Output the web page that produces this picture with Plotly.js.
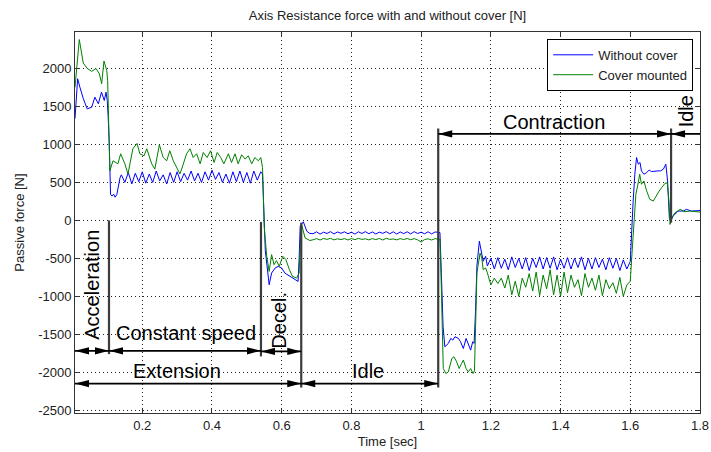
<!DOCTYPE html>
<html><head><meta charset="utf-8">
<script src="https://cdn.plot.ly/plotly-3.0.1.min.js"></script>
<style>html,body{margin:0;padding:0;background:#fff}#chart{width:711px;height:452px}</style>
</head><body><div id="chart"></div><script>
// ---------- DATA ----------
// Shared time grids
const tIdle = [0.69,0.70,0.71,0.72,0.73,0.74,0.75,0.76,0.77,0.78,0.79,0.80,0.81,0.82,0.83,0.84,0.85,0.86,0.87,0.88,0.89,0.90,0.91,0.92,0.93,0.94,0.95,0.96,0.97,0.98,0.99,1.00,1.01,1.02,1.03,1.04,1.05];
const tContr = [1.19,1.20,1.21,1.22,1.23,1.24,1.25,1.26,1.27,1.28,1.29,1.30,1.31,1.32,1.33,1.34,1.35,1.36,1.37,1.38,1.39,1.40,1.41,1.42,1.43,1.44,1.45,1.46,1.47,1.48,1.49,1.50,1.51,1.52,1.53,1.54,1.55,1.56,1.57,1.58,1.59,1.60];

// "Without cover" series
const tAccelNo = [0.007,0.0146,0.021,0.031,0.042,0.055,0.064,0.074,0.083,0.091,0.096,0.0995,0.102,0.105,0.109,0.113,0.118,0.122,0.127,0.132,0.136];
const fAccelNo = [1340,1865,1754,1601,1468,1490,1622,1535,1688,1578,1688,1578,1380,1049,344,320,345,305,340,470,560];
const tConstNo = [0.14,0.15,0.16,0.17,0.18,0.19,0.20,0.21,0.22,0.23,0.24,0.25,0.26,0.27,0.28,0.29,0.30,0.31,0.32,0.33,0.34,0.35,0.36,0.37,0.38,0.39,0.40,0.41,0.42,0.43,0.44,0.45,0.46,0.47,0.48,0.49,0.50,0.51,0.52,0.53,0.54];
const fConstNo = [600,500,630,480,620,510,640,490,610,500,650,520,600,480,630,500,640,510,620,530,650,520,620,500,640,530,660,540,630,500,610,490,640,510,650,500,630,490,650,530,640];
const tDecelNo = [0.545,0.549,0.553,0.557,0.564,0.571,0.581,0.590,0.600,0.609,0.624,0.638,0.647,0.650,0.653,0.662,0.672,0.680];
const fDecelNo = [610,100,-400,-561,-847,-693,-627,-605,-627,-693,-737,-781,-803,-500,-75,-18,-142,-170];
const fIdleNo = [-175,-150,-180,-155,-172,-148,-178,-152,-170,-150,-176,-155,-180,-150,-172,-148,-175,-152,-178,-155,-170,-148,-176,-150,-180,-152,-174,-150,-178,-148,-172,-155,-176,-150,-178,-152,-165];
const tDropNo = [1.054,1.058,1.063,1.068,1.078,1.085,1.091,1.097,1.107,1.113,1.121,1.129,1.135,1.142,1.148,1.152,1.156,1.160,1.167,1.174,1.178,1.185];
const fDropNo = [-160,-700,-1400,-1663,-1619,-1553,-1575,-1531,-1553,-1597,-1686,-1553,-1619,-1707,-1597,-1619,-1200,-600,-274,-450,-538,-472];
const fContrNo = [-600,-500,-640,-490,-630,-510,-650,-480,-620,-500,-640,-490,-660,-500,-620,-480,-640,-490,-630,-480,-650,-510,-630,-490,-640,-500,-620,-480,-650,-500,-640,-490,-620,-510,-650,-490,-630,-500,-660,-520,-640,-540];
const tEndNo = [1.604,1.608,1.613,1.618,1.623,1.628,1.632,1.639,1.647,1.654,1.661,1.671,1.680,1.687,1.695,1.702,1.707,1.712,1.716,1.723,1.737,1.752,1.761,1.776,1.790,1.800];
const fEndNo = [-100,233,608,828,740,762,652,608,630,662,643,652,652,652,675,740,520,34,-9,57,123,123,145,123,132,130];

// "Cover mounted" series
const tAccelCv = [0.007,0.0193,0.0307,0.0422,0.0548,0.0672,0.0767,0.0835,0.0901,0.0979,0.1007,0.103,0.105,0.107];
const fAccelCv = [1750,2381,2072,2000,1962,2000,1932,1800,2098,1975,1843,1400,1093,652];
const tConstCv = [0.116,0.130,0.138,0.150,0.159,0.173,0.185,0.193,0.205,0.213,0.227,0.236,0.249,0.260,0.270,0.279,0.289,0.299,0.308,0.316,0.327,0.337,0.346,0.356,0.366,0.375,0.386,0.396,0.406,0.415,0.425,0.434,0.447,0.456,0.466,0.475,0.485,0.495,0.504,0.514,0.523,0.533,0.540,0.545];
const fConstCv = [785,745,877,745,612,943,1013,877,850,943,745,675,996,828,785,917,785,696,612,718,877,943,828,877,745,894,828,917,762,894,828,745,877,762,877,745,864,807,850,745,828,785,828,696];
const tDecelCv = [0.550,0.557,0.564,0.571,0.578,0.585,0.593,0.603,0.612,0.622,0.631,0.643,0.650,0.655,0.657,0.667,0.681];
const fDecelCv = [-100,-472,-671,-450,-582,-529,-605,-472,-516,-648,-737,-759,-693,-98,-53,-230,-265];
const fIdleCv = [-255,-240,-258,-238,-250,-236,-256,-242,-252,-240,-258,-238,-254,-236,-250,-242,-256,-240,-252,-238,-258,-236,-250,-244,-256,-240,-252,-238,-254,-240,-256,-285,-252,-242,-258,-240,-250];
const tDropCv = [1.054,1.058,1.0635,1.071,1.078,1.088,1.094,1.102,1.109,1.116,1.121,1.129,1.135,1.142,1.149,1.153,1.156,1.160,1.169,1.174,1.178,1.185];
const fDropCv = [-245,-900,-1950,-2016,-1994,-1818,-1795,-1862,-1950,-1884,-1839,-1950,-1994,-1950,-2016,-1980,-1500,-693,-429,-495,-648,-627];
const fContrCv = [-690,-850,-760,-830,-760,-890,-720,-980,-800,-1000,-760,-880,-700,-930,-680,-990,-720,-900,-650,-980,-720,-1000,-680,-950,-720,-880,-780,-990,-700,-880,-760,-920,-720,-990,-780,-900,-820,-960,-750,-1000,-850,-800];
const tEndCv = [1.604,1.608,1.616,1.622,1.627,1.632,1.639,1.647,1.656,1.666,1.676,1.683,1.690,1.699,1.706,1.711,1.714,1.719,1.728,1.743,1.757,1.771,1.800];
const fEndCv = [-500,-230,344,476,608,476,520,388,278,255,344,388,431,484,497,255,-53,34,100,145,114,123,110];

// Phase boundaries (sec) and labels
const phaseTimes = [0.007, 0.1045, 0.5405, 0.656, 1.049, 1.717, 1.8];
const seriesNames = ['Without cover', 'Cover mounted'];
const xTicks = [0.2,0.4,0.6,0.8,1,1.2,1.4,1.6,1.8];
const xTickText = ['0.2','0.4','0.6','0.8','1','1.2','1.4','1.6','1.8'];
const yTicks = [-2500,-2000,-1500,-1000,-500,0,500,1000,1500,2000];
const yTickText = ['-2500','-2000','-1500','-1000','-500','0','500','1000','1500','2000'];

// ---------- BUILD ----------
const xNo = [].concat(tAccelNo, tConstNo, tDecelNo, tIdle, tDropNo, tContr, tEndNo);
const yNo = [].concat(fAccelNo, fConstNo, fDecelNo, fIdleNo, fDropNo, fContrNo, fEndNo);
const xCv = [].concat(tAccelCv, tConstCv, tDecelCv, tIdle, tDropCv, tContr, tEndCv);
const yCv = [].concat(fAccelCv, fConstCv, fDecelCv, fIdleCv, fDropCv, fContrCv, fEndCv);

const FONT = 'Liberation Sans, Arial, Helvetica, sans-serif';
const traces = [
  {x: xNo, y: yNo, type: 'scatter', mode: 'lines', name: seriesNames[0], line: {color: '#0000ff', width: 1}},
  {x: xCv, y: yCv, type: 'scatter', mode: 'lines', name: seriesNames[1], line: {color: '#008000', width: 1}}
];

const [t0, tA, tC, tE, tI, tK, t1] = phaseTimes;
const shapes = [];
function vline(x, ya, yb) {
  shapes.push({type: 'line', xref: 'x', yref: 'y', x0: x, x1: x, y0: ya, y1: yb, line: {color: '#3c3c3c', width: 2.2}, layer: 'above'});
}
function head(x, y, dir) { // dir -1 points left, +1 points right
  const L = 14 * -dir, W = 3.6;
  shapes.push({type: 'path', xref: 'x', yref: 'y', xsizemode: 'pixel', ysizemode: 'pixel', xanchor: x, yanchor: y,
    path: 'M0,0L' + L + ',' + W + 'L' + L + ',' + (-W) + 'Z', fillcolor: '#000', line: {width: 0}, layer: 'above'});
}
function arrow(xa, xb, y, both) {
  shapes.push({type: 'line', xref: 'x', yref: 'y', x0: xa, x1: xb, y0: y, y1: y, line: {color: '#000', width: 1.8}, layer: 'above'});
  head(xa, y, -1);
  if (both) head(xb, y, 1);
}
vline(tA, 0, -1760);
vline(tC, -20, -1790);
vline(tE, -30, -2200);
vline(tI, 1210, -2200);
vline(tK, 1210, -30);
arrow(t0, tA, -1716, true);
arrow(tA, tC, -1716, true);
arrow(tC, tE, -1725, true);
arrow(t0, tE, -2148, true);
arrow(tE, tI, -2148, true);
arrow(tI, tK, 1139, true);
arrow(tK, t1, 1139, false);

const labels = [
  {text: 'Acceleration', x: 0.0571, y: -841, textangle: -90},
  {text: 'Constant speed', x: 0.326, y: -1485, textangle: 0},
  {text: 'Decel.', x: 0.592, y: -1307, textangle: -90},
  {text: 'Extension', x: 0.2995, y: -1980, textangle: 0},
  {text: 'Idle', x: 0.8475, y: -1980, textangle: 0},
  {text: 'Contraction', x: 1.381, y: 1300, textangle: 0},
  {text: 'Idle', x: 1.761, y: 1441, textangle: -90}
];
const annotations = labels.map(l => ({
  text: l.text, x: l.x, y: l.y, xref: 'x', yref: 'y', showarrow: false, textangle: l.textangle,
  font: {family: FONT, size: 20, color: '#000'}, xanchor: 'center', yanchor: 'middle'
}));

const axisCommon = {
  showline: true, linecolor: '#333', linewidth: 1, mirror: 'ticks',
  ticks: 'inside', ticklen: 5, tickcolor: '#333', tickwidth: 1,
  showgrid: true, gridcolor: '#222', gridwidth: 1, griddash: '1px,3px',
  zeroline: false, tickfont: {family: FONT, size: 13, color: '#222'}, tickmode: 'array'
};

const layout = {
  width: 711, height: 452,
  margin: {l: 75, r: 11, t: 32, b: 39, pad: 0},
  paper_bgcolor: '#fff', plot_bgcolor: '#fff',
  font: {family: FONT, color: '#222'},
  title: {text: 'Axis Resistance force with and without cover [N]', font: {family: FONT, size: 13, color: '#222'}, x: 0.545, xanchor: 'center', y: 0.965, yanchor: 'middle'},
  xaxis: Object.assign({}, axisCommon, {range: [0.007, 1.8], tickvals: xTicks, ticktext: xTickText,
    title: {text: 'Time [sec]', font: {family: FONT, size: 13, color: '#222'}, standoff: 5}}),
  yaxis: Object.assign({}, axisCommon, {range: [-2535, 2480], tickvals: yTicks, ticktext: yTickText,
    title: {text: 'Passive force [N]', font: {family: FONT, size: 13, color: '#222'}, standoff: 10}}),
  showlegend: true,
  legend: {x: 0.989, y: 0.982, xanchor: 'right', yanchor: 'top', bgcolor: '#fff', bordercolor: '#000', borderwidth: 1,
    font: {family: FONT, size: 13, color: '#222'}, itemwidth: 40},
  shapes: shapes,
  annotations: annotations
};

Plotly.newPlot('chart', traces, layout, {displayModeBar: false, staticPlot: true});
</script></body></html>
